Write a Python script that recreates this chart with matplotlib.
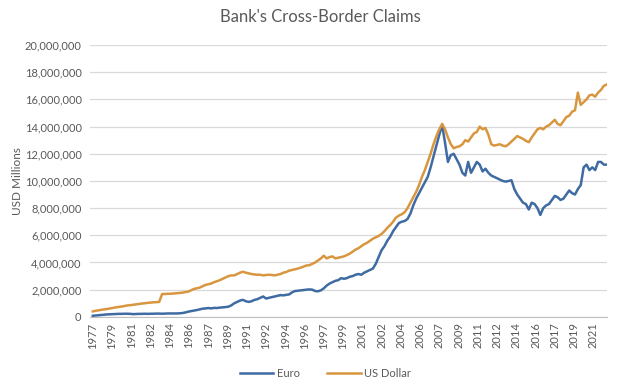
import matplotlib
matplotlib.use("Agg")
import matplotlib.pyplot as plt
from matplotlib.ticker import FuncFormatter, FixedLocator
import numpy as np

# Quarterly observations, Dec 1977 .. Jun 2022 (values in USD millions)
start_year = 1977.917
n_quarters = 179
quarter_dates = [start_year + 0.25 * i for i in range(n_quarters)]

usd_dollar = [
    0.40,
    0.45, 0.48, 0.52, 0.55,
    0.58, 0.62, 0.66, 0.70,
    0.73, 0.76, 0.80, 0.84,
    0.86, 0.89, 0.92, 0.95,
    0.98, 1.00, 1.03, 1.05,
    1.07, 1.08, 1.10, 1.68,
    1.68, 1.70, 1.70, 1.72,
    1.74, 1.76, 1.78, 1.82,
    1.85, 1.95, 2.05, 2.10,
    2.15, 2.25, 2.35, 2.40,
    2.45, 2.55, 2.62, 2.70,
    2.80, 2.90, 3.00, 3.05,
    3.05, 3.15, 3.25, 3.32,
    3.25, 3.20, 3.15, 3.12,
    3.10, 3.10, 3.05, 3.08,
    3.10, 3.08, 3.05, 3.10,
    3.15, 3.25, 3.30, 3.40,
    3.45, 3.50, 3.55, 3.62,
    3.70, 3.78, 3.80, 3.90,
    4.00, 4.15, 4.30, 4.50,
    4.30, 4.40, 4.45, 4.30,
    4.35, 4.40, 4.45, 4.55,
    4.65, 4.80, 4.95, 5.05,
    5.20, 5.35, 5.45, 5.60,
    5.75, 5.85, 5.95, 6.10,
    6.30, 6.55, 6.75, 7.00,
    7.30, 7.45, 7.55, 7.70,
    8.00, 8.40, 8.80, 9.20,
    9.70, 10.30, 10.80, 11.40,
    12.00, 12.70, 13.30, 13.80,
    14.20, 13.80, 13.20, 12.70,
    12.40, 12.50, 12.55, 12.70,
    13.00, 12.90, 13.20, 13.50,
    13.60, 14.00, 13.80, 13.90,
    13.40, 12.70, 12.60, 12.65,
    12.70, 12.60, 12.55, 12.70,
    12.90, 13.10, 13.30, 13.20,
    13.10, 12.95, 12.85, 13.20,
    13.50, 13.80, 13.90, 13.80,
    14.00, 14.10, 14.30, 14.50,
    14.20, 14.10, 14.40, 14.70,
    14.80, 15.10, 15.20, 16.50,
    15.60, 15.80, 16.00, 16.30,
    16.35, 16.20, 16.50, 16.70,
    17.00, 17.10,
]

euro = [
    0.08,
    0.10, 0.12, 0.14, 0.16,
    0.18, 0.19, 0.20, 0.21,
    0.22, 0.22, 0.23, 0.23,
    0.22, 0.20, 0.21, 0.22,
    0.22, 0.23, 0.22, 0.23,
    0.23, 0.24, 0.24, 0.23,
    0.24, 0.25, 0.25, 0.25,
    0.25, 0.26, 0.28, 0.32,
    0.38, 0.42, 0.46, 0.50,
    0.55, 0.60, 0.62, 0.65,
    0.62, 0.66, 0.65, 0.68,
    0.70, 0.72, 0.75, 0.85,
    1.00, 1.10, 1.20, 1.25,
    1.15, 1.10, 1.15, 1.25,
    1.30, 1.40, 1.50, 1.35,
    1.40, 1.45, 1.50, 1.55,
    1.60, 1.58, 1.62, 1.65,
    1.80, 1.90, 1.92, 1.95,
    1.97, 2.00, 2.02, 2.00,
    1.90, 1.88, 1.95, 2.10,
    2.30, 2.45, 2.55, 2.65,
    2.70, 2.85, 2.80, 2.85,
    2.95, 3.00, 3.10, 3.15,
    3.10, 3.25, 3.35, 3.45,
    3.55, 3.90, 4.40, 4.90,
    5.20, 5.60, 5.90, 6.30,
    6.60, 6.90, 7.00, 7.05,
    7.20, 7.60, 8.20, 8.70,
    9.10, 9.50, 9.90, 10.30,
    11.00, 11.80, 12.60, 13.40,
    14.10, 12.80, 11.40, 11.90,
    12.00, 11.60, 11.20, 10.60,
    10.40, 11.40, 10.60, 11.00,
    11.40, 11.20, 10.70, 10.90,
    10.60, 10.40, 10.30, 10.20,
    10.10, 10.00, 9.95, 10.00,
    10.05, 9.40, 9.00, 8.70,
    8.40, 8.30, 7.90, 8.40,
    8.30, 8.00, 7.50, 8.00,
    8.20, 8.30, 8.60, 8.90,
    8.80, 8.60, 8.70, 9.00,
    9.30, 9.10, 9.00, 9.40,
    9.70, 11.00, 11.20, 10.80,
    11.00, 10.80, 11.40, 11.40,
    11.20, 11.20,
]

# Category labels shown every 20 months
tick_labels = ["1977", "1979", "1981", "1982", "1984", "1986", "1987", "1989",
               "1991", "1992", "1994", "1996", "1997", "1999", "2001", "2002",
               "2004", "2006", "2007", "2009", "2011", "2012", "2014", "2016",
               "2017", "2019", "2021"]
tick_positions = [start_year + k * 20 / 12 for k in range(len(tick_labels))]

title = "Bank's Cross-Border Claims"
y_label = "USD Millions"

plt.rcParams['font.family'] = ['Lato', 'DejaVu Sans']

fig = plt.figure(figsize=(6.2, 3.85), dpi=100)
ax = fig.add_axes([0.145, 0.177, 0.834, 0.706])

blue = "#3F6BA3"
orange = "#D8963F"
grey_text = "#595959"

x = np.array(quarter_dates)
ax.plot(x, np.array(euro) * 1e6, color=blue, lw=1.8, label="Euro", zorder=3)
ax.plot(x, np.array(usd_dollar) * 1e6, color=orange, lw=1.8, label="US Dollar", zorder=3)

ax.set_ylim(0, 20e6)
ax.set_xlim(start_year - 0.25, quarter_dates[-1] + 0.02)
ax.yaxis.set_major_locator(FixedLocator(np.arange(0, 20e6 + 1, 2e6)))
ax.yaxis.set_major_formatter(FuncFormatter(lambda v, p: f"{int(round(v)):,}"))
ax.xaxis.set_major_locator(FixedLocator(tick_positions))
ax.set_xticklabels(tick_labels, rotation=90)

ax.grid(axis='y', color="#D9D9D9", lw=0.9)
ax.set_axisbelow(True)
for s in ['top', 'right', 'left']:
    ax.spines[s].set_visible(False)
ax.spines['bottom'].set_color("#BFBFBF")
ax.tick_params(axis='both', length=0, labelsize=8, colors=grey_text, pad=6)
ax.tick_params(axis='x', pad=4)

ax.set_ylabel(y_label, fontsize=8.5, color=grey_text, labelpad=6)
ax.yaxis.set_label_coords(-0.13, 0.5)
fig.text(0.516, 0.955, title, ha='center', va='center', fontsize=12, color=grey_text)

leg = fig.legend(loc='center', bbox_to_anchor=(0.525, 0.03), ncol=2, frameon=False,
                 fontsize=8, handlelength=3, columnspacing=2.5, handletextpad=0.3)
for t in leg.get_texts():
    t.set_color(grey_text)

fig.savefig("out.png", dpi=100, facecolor="white")
